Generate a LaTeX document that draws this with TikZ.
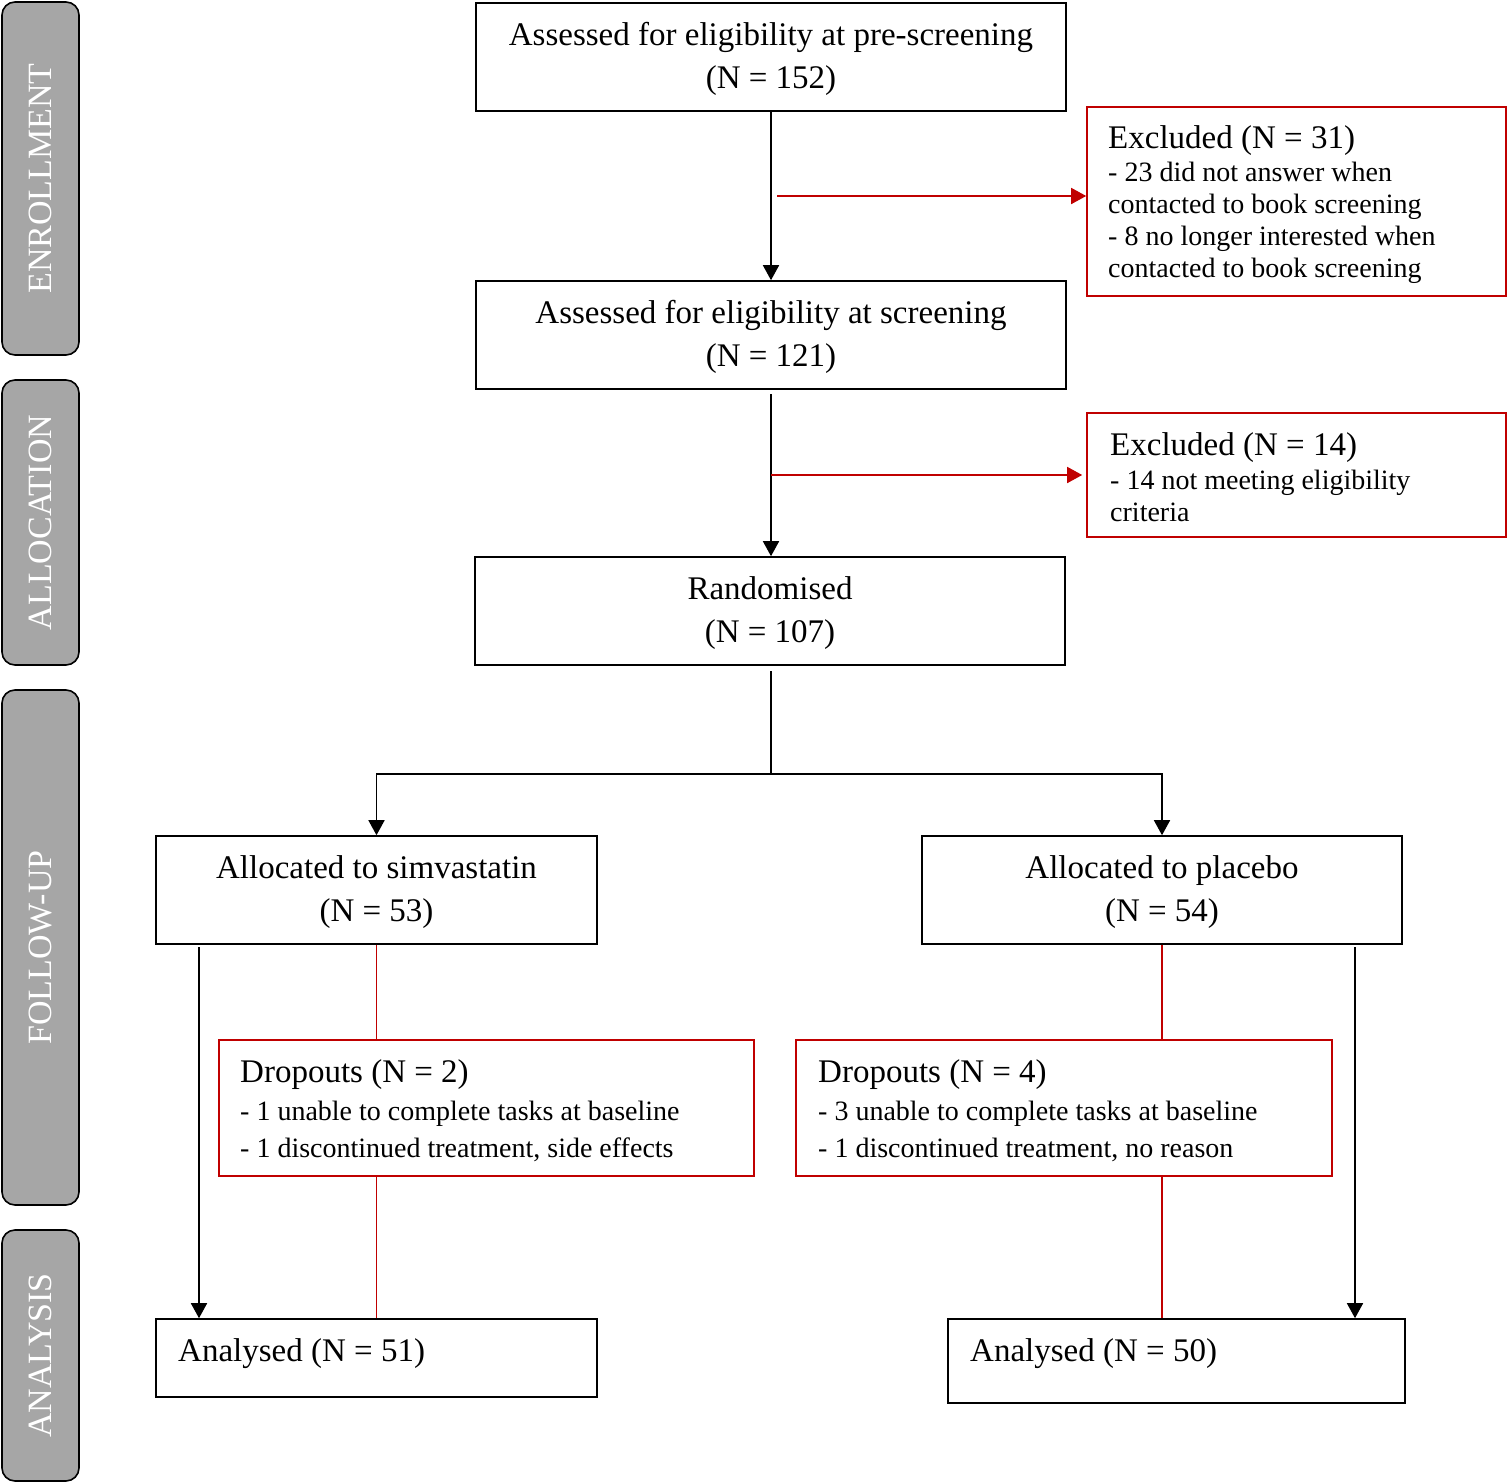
\documentclass[tikz,border=0pt]{standalone}
\usepackage{fontspec}
\setmainfont{Liberation Serif}
\usetikzlibrary{arrows.meta,calc}
\definecolor{cred}{HTML}{C00000}
\definecolor{tabgray}{HTML}{A6A6A6}
\begin{document}
\begin{tikzpicture}[x=1pt,y=-1pt,
  box/.style={draw=black,line width=1.6pt,inner sep=0pt},
  ctxt/.style={inner sep=0pt,align=center,font=\fontsize{33}{43}\selectfont},
  rbox/.style={draw=cred,line width=1.6pt,inner sep=0pt},
  tab/.style={draw=black,line width=1.6pt,fill=tabgray,rounded corners=13pt,minimum width=77pt,inner sep=0pt},
  tabtxt/.style={rotate=90,text=white,font=\fontsize{34}{34}\selectfont},
  arr/.style={draw=black,line width=1.6pt,-{Triangle[length=15pt,width=16pt]}},
  rarr/.style={draw=cred,line width=1.6pt,-{Triangle[length=15pt,width=16pt]}},
  rline/.style={draw=cred,line width=1.6pt},
  bline/.style={draw=black,line width=1.6pt},
  ltxt/.style={anchor=base west,align=left,inner sep=0pt,font=\fontsize{28}{32}\selectfont},
  htxt/.style={anchor=base west,inner sep=0pt,font=\fontsize{33}{40}\selectfont}
]
\useasboundingbox (0,0) rectangle (1508,1483);

% side tabs
\node[tab,minimum height=353pt] (tEnr) at (40.5,178.5) {};
\node[tabtxt] (tEnrT) at (40.5,178.5) {ENROLLMENT};
\node[tab,minimum height=285pt] (tAll) at (40.5,522.5) {};
\node[tabtxt] (tAllT) at (40.5,522.5) {ALLOCATION};
\node[tab,minimum height=515pt] (tFol) at (40.5,947.5) {};
\node[tabtxt] (tFolT) at (40.5,947.5) {FOLLOW-UP};
\node[tab,minimum height=251pt] (tAna) at (40.5,1355.5) {};
\node[tabtxt] (tAnaT) at (40.5,1355.5) {ANALYSIS};

% main boxes
\node[box,minimum width=590pt,minimum height=108pt] (pre) at (771,57) {};
\node[ctxt] (preT) at (771,59) {Assessed for eligibility at pre-screening\\(N = 152)};
\node[box,minimum width=590pt,minimum height=108pt] (scr) at (771,335) {};
\node[ctxt] (scrT) at (771,337) {Assessed for eligibility at screening\\(N = 121)};
\node[box,minimum width=590pt,minimum height=108pt] (rand) at (770,611) {};
\node[ctxt] (randT) at (770,613) {Randomised\\(N = 107)};
\node[box,minimum width=441pt,minimum height=108pt] (sim) at (376.5,890) {};
\node[ctxt] (simT) at (376.5,892) {Allocated to simvastatin\\(N = 53)};
\node[box,minimum width=480pt,minimum height=108pt] (plac) at (1162,890) {};
\node[ctxt] (placT) at (1162,892) {Allocated to placebo\\(N = 54)};
\node[box,minimum width=441pt,minimum height=78pt] (an51) at (376.5,1358) {};
\node[htxt] (an51T) at (178,1361) {Analysed (N = 51)};
\node[box,minimum width=457pt,minimum height=84pt] (an50) at (1176.5,1361) {};
\node[htxt] (an50T) at (970,1361) {Analysed (N = 50)};

% red boxes
\node[rbox,minimum width=419pt,minimum height=189pt] (ex31) at (1296.5,201.5) {};
\node[htxt] (ex31H) at (1108,148) {Excluded (N = 31)};
\node[ltxt] (ex31T) at (1108,277) {- 23 did not answer when\\contacted to book screening\\- 8 no longer interested when\\contacted to book screening};

\node[rbox,minimum width=419pt,minimum height=124pt] (ex14) at (1296.5,475) {};
\node[htxt] (ex14H) at (1110,455) {Excluded (N = 14)};
\node[ltxt] (ex14T) at (1110,521) {- 14 not meeting eligibility\\criteria};

\node[rbox,minimum width=535pt,minimum height=136pt] (drop2) at (486.5,1108) {};
\node[htxt] (drop2H) at (240,1082) {Dropouts (N = 2)};
\node[ltxt,font=\fontsize{28}{37}\selectfont] (drop2T) at (240,1157) {- 1 unable to complete tasks at baseline\\- 1 discontinued treatment, side effects};

\node[rbox,minimum width=536pt,minimum height=136pt] (drop4) at (1064,1108) {};
\node[htxt] (drop4H) at (818,1082) {Dropouts (N = 4)};
\node[ltxt,font=\fontsize{28}{37}\selectfont] (drop4T) at (818,1157) {- 3 unable to complete tasks at baseline\\- 1 discontinued treatment, no reason};

% connectors
\draw[arr] (pre) -- (scr);
\coordinate (r1) at (777,196);
\draw[rarr] (r1) -- (r1 -| ex31.west);
\coordinate (s2) at (771,394);
\draw[arr] (s2) -- (s2 |- rand.north);
\coordinate (r2) at (771,475);
\draw[rarr] (r2) -- ($(r2 -| ex14.west)+(-4,0)$);
\coordinate (rs) at (771,671);
\coordinate (bj) at (771,774);
\draw[bline] (rs) -- (bj);
\draw[arr] (bj) -| (sim.north);
\draw[arr] (bj) -| (plac.north);

\coordinate (s1) at (199,947);
\draw[arr] (s1) -- (s1 |- an51.north);
\draw[rline] (sim.south) -- (sim.south |- drop2.north);
\draw[rline] (sim.south |- drop2.south) -- (an51.north);

\coordinate (p1) at (1355,947);
\draw[arr] (p1) -- (p1 |- an50.north);
\draw[rline] (plac.south) -- (plac.south |- drop4.north);
\draw[rline] (plac.south |- drop4.south) -- (plac.south |- an50.north);
\end{tikzpicture}
\end{document}
